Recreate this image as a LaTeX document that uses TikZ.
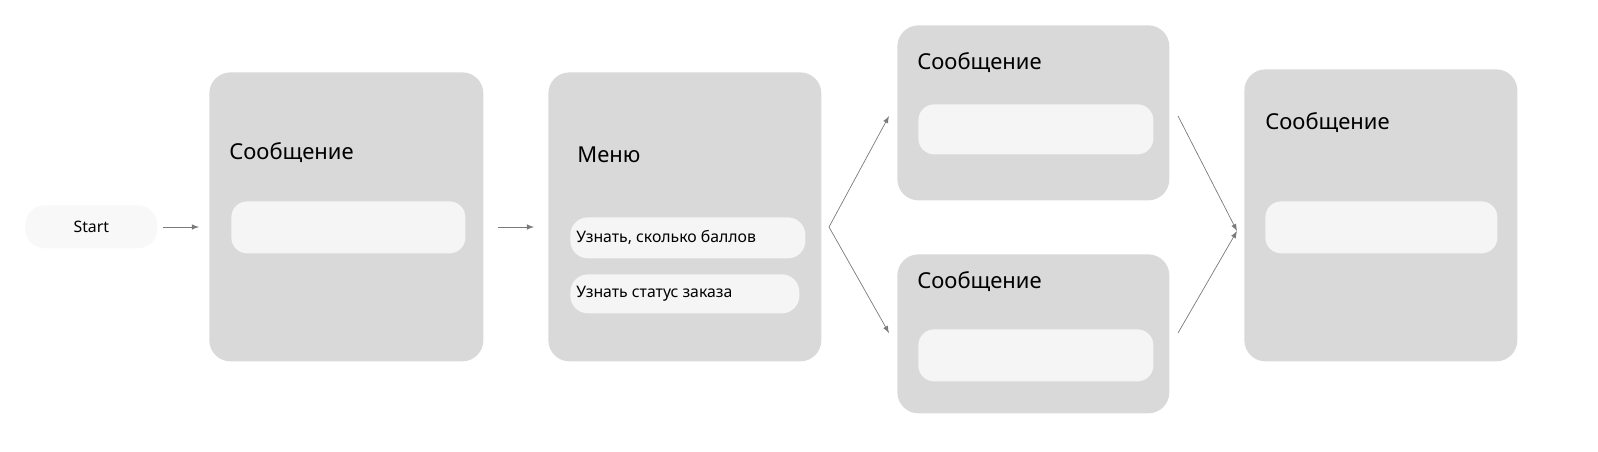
\documentclass[tikz,border=0pt]{standalone}
\usepackage{fontspec}
\setmainfont{Noto Sans}
\usetikzlibrary{positioning}
\definecolor{cardgray}{HTML}{D9D9D9}
\definecolor{pillwhite}{HTML}{F5F5F5}
\definecolor{linegray}{HTML}{7A7A7A}
\begin{document}
\begin{tikzpicture}[
  x=0.02cm, y=-0.02cm,
  card/.style={fill=cardgray, rounded corners=12pt, inner sep=0pt, anchor=north west},
  pill/.style={fill=pillwhite, rounded corners=9pt, inner sep=0pt, anchor=north west},
  title/.style={anchor=base west, font=\fontsize{12.5}{14}\selectfont, inner sep=0pt},
  btntext/.style={font=\fontsize{9}{11}\selectfont, inner sep=0pt},
  arrow/.style={-latex, linegray, thin}
]
\useasboundingbox (0,0) rectangle (1598,451);

% start
\node[pill, fill=pillwhite!70!white, minimum width=132*0.02cm, minimum height=43*0.02cm, rounded corners=11pt] (start) at (25,205) {};
\node[btntext] at (start.center) {Start};

% cards
\node[card, minimum width=274*0.02cm, minimum height=289*0.02cm] (msg1) at (209,72) {};
\node[card, minimum width=273*0.02cm, minimum height=289*0.02cm] (menu) at (548,72) {};
\node[card, minimum width=272*0.02cm, minimum height=175*0.02cm] (msgtop) at (897,25) {};
\node[card, minimum width=272*0.02cm, minimum height=159*0.02cm] (msgbot) at (897,254) {};
\node[card, minimum width=273*0.02cm, minimum height=292*0.02cm] (msg2) at (1244,69) {};

% titles
\node[title] (t1) at (229,159) {Сообщение};
\node[title] (t2) at (577,162) {Меню};
\node[title] (t3) at (917,69) {Сообщение};
\node[title] (t4) at (917,288) {Сообщение};
\node[title] (t5) at (1265,129) {Сообщение};

% pills
\node[pill, minimum width=234*0.02cm, minimum height=52*0.02cm] (p1) at (231,201) {};
\node[pill, minimum width=235*0.02cm, minimum height=50*0.02cm] (p3) at (918,104) {};
\node[pill, minimum width=235*0.02cm, minimum height=52*0.02cm] (p4) at (918,329) {};
\node[pill, minimum width=232*0.02cm, minimum height=52*0.02cm] (p5) at (1265,201) {};

% menu buttons
\node[pill, minimum width=235*0.02cm, minimum height=41*0.02cm, rounded corners=10pt] (b1) at (570,217) {};
\node[btntext, anchor=west] at ([xshift=6*0.02cm]b1.west) {Узнать, сколько баллов};
\node[pill, minimum width=229*0.02cm, minimum height=39*0.02cm, rounded corners=10pt] (b2) at (570,274) {};
\node[btntext, anchor=west] at ([xshift=6*0.02cm]b2.west) {Узнать статус заказа};

% connectors
\coordinate (a1s) at (163,227); \coordinate (a1e) at (199,227);
\coordinate (a2s) at (498,227); \coordinate (a2e) at (534,227);
\coordinate (fork) at (829,227);
\coordinate (forkup) at (889,116); \coordinate (forkdn) at (889,333);
\coordinate (jup) at (1178,116); \coordinate (jdn) at (1178,333);
\coordinate (join) at (1237,231);
\draw[arrow] (a1s) -- (a1e);
\draw[arrow] (a2s) -- (a2e);
\draw[arrow] (fork) -- (forkup);
\draw[arrow] (fork) -- (forkdn);
\draw[arrow] (jup) -- (join);
\draw[arrow] (jdn) -- (join);
\end{tikzpicture}
\end{document}
